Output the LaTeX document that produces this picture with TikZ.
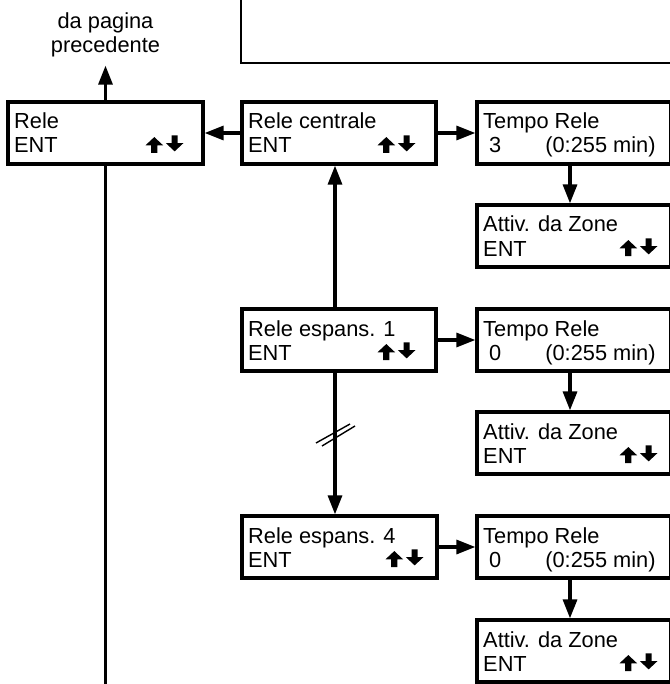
\documentclass[tikz,border=0pt]{standalone}
\usepackage{fontspec}
\setmainfont{Liberation Sans}
\usetikzlibrary{arrows.meta,calc}
\newcommand\lcdbox[7]{%
  \node[lcd,minimum width=#4pt] (#1) at (#2,#3) {};
  \node[lcdtxt] (#1a) at ([xshift=6pt,yshift=-27pt]#1.north west) {#5};
  \node[lcdtxt] (#1b) at ([xshift=6pt,yshift=-51pt]#1.north west) {#6};
  \pic[scale=1.1] (#1c) at ([xshift=-#7pt,yshift=-51pt]#1.north east) {updn};
}
\newcommand\tempobox[4]{%
  \node[lcd] (#1) at (#2,#3) {};
  \node[lcdtxt] (#1a) at ([xshift=6pt,yshift=-27pt]#1.north west) {Tempo Rele};
  \node[lcdtxt] (#1b) at ([xshift=6pt,yshift=-51pt]#1.north west) {\hspace*{6pt}#4\hspace{44pt}(0:255 min)};
}
\begin{document}
\begin{tikzpicture}[x=1pt,y=-1pt,
  lcd/.style={draw,line width=3.3pt,minimum width=194pt,minimum height=62pt,inner sep=0pt,outer sep=0pt,anchor=north west},
  lcdtxt/.style={inner sep=0pt,anchor=base west,font=\fontsize{21.8}{24}\selectfont},
  conn/.style={line width=3.2pt,shorten >=1.6pt,-{Triangle[length=19pt,width=14pt]}},
  plain/.style={line width=3.2pt},
  slash/.style={line width=1.4pt},
  pics/updn/.style={code={
     \fill (-35,-7) -- (-27,-14.5) -- (-19,-7) -- (-24.2,-7) -- (-24.2,0) -- (-29.8,0) -- (-29.8,-7) -- cycle;
     \fill (-11.3,-16) -- (-5.7,-16) -- (-5.7,-9) -- (-0.5,-9) -- (-8.5,-1.5) -- (-16.5,-9) -- (-11.3,-9) -- cycle;
  }}
]
\useasboundingbox[fill=white] (0,0) rectangle (669,684);
% partial box at top right
\draw[line width=1.1pt] (241,-5) -- (241,63) -- (680,63);

\lcdbox{rele}{8}{102}{195}{Rele}{ENT}{19}
\lcdbox{cent}{242}{102}{194}{Rele centrale}{ENT}{20}
\lcdbox{espa}{242}{309}{194}{Rele espans. 1}{ENT}{20}
\lcdbox{espd}{242}{516}{195}{Rele espans. 4}{ENT}{13}
\lcdbox{atta}{477}{205}{194}{Attiv. da Zone}{ENT}{13}
\lcdbox{attb}{477}{412}{194}{Attiv. da Zone}{ENT}{13}
\lcdbox{attc}{477}{620}{194}{Attiv. da Zone}{ENT}{13}
\tempobox{tmpa}{477}{102}{3}
\tempobox{tmpb}{477}{309}{0}
\tempobox{tmpc}{477}{516}{0}

\node[inner sep=0pt,anchor=north,align=center,font=\fontsize{21.8}{23.5}\selectfont] (prevtxt) at (105.5,13) {da pagina\\precedente};
\coordinate (prev) at (105.5,64);
\coordinate (bot) at (105.5,690);

\draw[conn] (rele.north) -- (prev);
\draw[plain] (rele.south) -- (bot);
\draw[conn] (cent.west) -- (rele.east);
\draw[conn] (cent.east) -- (tmpa.west);
\draw[conn] (espa.east) -- (tmpb.west);
\draw[conn] (espd.east) -- (tmpc.west);
\draw[conn] ([xshift=-4pt]tmpa.south) -- ([xshift=-4pt]atta.north);
\draw[conn] ([xshift=-4pt]tmpb.south) -- ([xshift=-4pt]attb.north);
\draw[conn] ([xshift=-4pt]tmpc.south) -- ([xshift=-4pt]attc.north);
\draw[conn] ([xshift=-4pt]espa.north) -- ([xshift=-4pt]espa.north |- cent.south);
\draw[conn] ([xshift=-4pt]espa.south) -- ([xshift=-4pt]espa.south |- espd.north);
\draw[slash] (316,443) -- (350,424);
\draw[slash] (322,446) -- (355,426);
\end{tikzpicture}
\end{document}
